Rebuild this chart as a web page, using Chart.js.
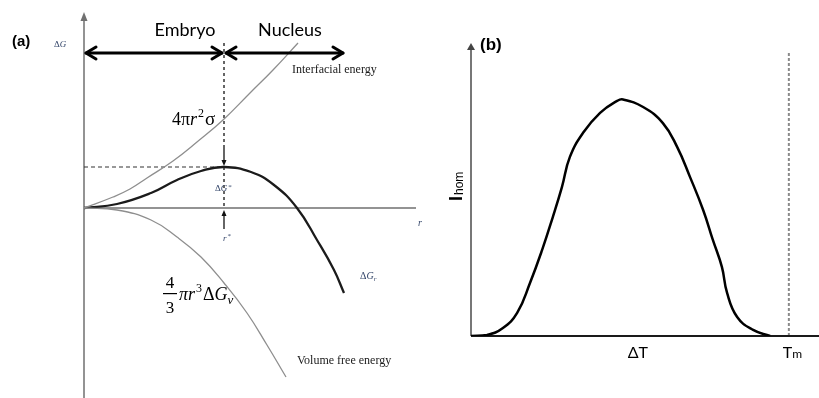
<!DOCTYPE html>
<html>
<head>
<meta charset="utf-8">
<script src="https://cdn.jsdelivr.net/npm/chart.js@4.4.1/dist/chart.umd.min.js"></script>
<style>
html, body { margin: 0; padding: 0; background: #fff; }
#wrap { position: relative; width: 819px; height: 398px; overflow: hidden; }
canvas { position: absolute; top: 0; }
#chartA { left: 0; }
#chartB { left: 440px; }
</style>
</head>
<body>
<div id="wrap">
  <canvas id="chartA" width="440" height="398"></canvas>
  <canvas id="chartB" width="379" height="398"></canvas>
</div>
<script>
// ---- panel (a): free energy vs embryo radius (arbitrary units) ----
const surfR  = [0, 2.9, 4.6, 6.3, 8.9, 11.3, 13.9, 16.6, 18.9, 21.4];
const surfG  = [0, 1.1, 1.9, 3.0, 4.7, 6.6, 8.8, 11.5, 13.8, 16.5];
const volR   = [0, 3.3, 6.7, 9.3, 11.7, 14.0, 16.3, 18.3, 20.2];
const volG   = [0, -0.2, -1.2, -2.9, -4.9, -7.5, -10.5, -13.7, -16.9];
const totalR = [0, 3.3, 6.7, 9.3, 11.7, 14.0, 16.7, 19.0, 21.3, 23.3, 25.0, 26.0];
const totalG = [0, 0.4, 1.5, 2.8, 3.7, 4.1, 3.6, 2.3, 0, -3.2, -6.2, -8.5];
const rStar = 14.0;      // critical radius
const dGStar = 4.1;      // barrier height
const rRange = [0, 33.6];
const gRange = [-19, 19.6];
const regionArrowG = 15.5;   // height of Embryo / Nucleus arrows
const nucleusEndR = 25.9;

// ---- panel (b): nucleation rate vs undercooling ----
const dT   = [0, 4.6, 9.2, 13.3, 17.0, 20.5, 23.6, 26.2, 28.5, 32.3, 37.2, 42.1, 43.8, 49.6, 55.3, 59.4, 63.1, 66.9, 69.7, 72.3, 73.8, 76.7, 81.3, 86.2];
const iHom = [0, 0.4, 3.3, 9.5, 21.8, 35.4, 49.0, 61.2, 73.6, 83.5, 91.7, 96.6, 97.2, 94.1, 87.5, 77.7, 65.4, 51.8, 39.5, 28.4, 17.7, 7.8, 2.5, 0];
const tmPos = 91.6;
const dTLabelPos = 48.1;
const dTRange = [0, 100];
const iRange = [0, 120];

const toPts = (xs, ys) => xs.map((x, i) => ({ x: x, y: ys[i] }));

function head(ctx, x, y, ang, len, half) {
  ctx.beginPath();
  ctx.moveTo(x, y);
  ctx.lineTo(x - len * Math.cos(ang) + half * Math.sin(ang), y - len * Math.sin(ang) - half * Math.cos(ang));
  ctx.lineTo(x - len * Math.cos(ang) - half * Math.sin(ang), y - len * Math.sin(ang) + half * Math.cos(ang));
  ctx.closePath();
  ctx.fill();
}

function chevron(ctx, x, y, dir, len, half) {
  ctx.beginPath();
  ctx.moveTo(x - dir * len, y - half);
  ctx.lineTo(x, y);
  ctx.lineTo(x - dir * len, y + half);
  ctx.stroke();
}

// draw a run of [text, font, dy, gap] pieces from x
function runText(ctx, x, y, parts) {
  parts.forEach(p => {
    ctx.font = p[1];
    ctx.fillText(p[0], x, y + (p[2] || 0));
    x += ctx.measureText(p[0]).width + (p[3] || 0);
  });
  return x;
}

const panelA = {
  id: 'panelA',
  beforeDatasetsDraw(chart) {
    const { ctx, chartArea: a, scales: { x, y } } = chart;
    const x0 = x.getPixelForValue(0), y0 = y.getPixelForValue(0);
    const xs = x.getPixelForValue(rStar), ys = y.getPixelForValue(dGStar);
    ctx.save();
    // axes
    ctx.strokeStyle = '#707070';
    ctx.fillStyle = '#707070';
    ctx.lineWidth = 1.5;
    ctx.beginPath();
    ctx.moveTo(x0, a.bottom); ctx.lineTo(x0, a.top + 6);
    ctx.moveTo(x0, y0); ctx.lineTo(a.right - 4, y0);
    ctx.stroke();
    head(ctx, x0, a.top, -Math.PI / 2, 9, 3.5);
    // dashed guides
    ctx.strokeStyle = '#333';
    ctx.lineWidth = 1.2;
    ctx.setLineDash([4, 3]);
    ctx.beginPath();
    ctx.moveTo(x0, ys); ctx.lineTo(xs, ys);
    ctx.stroke();
    ctx.lineWidth = 1.5;
    ctx.setLineDash([3, 3]);
    ctx.beginPath();
    ctx.moveTo(xs, y.getPixelForValue(16.5)); ctx.lineTo(xs, y.getPixelForValue(6.1));
    ctx.moveTo(xs, ys); ctx.lineTo(xs, y0);
    ctx.stroke();
    ctx.restore();
  },
  afterDatasetsDraw(chart) {
    const { ctx, scales: { x, y } } = chart;
    const x0 = x.getPixelForValue(0), y0 = y.getPixelForValue(0);
    const xs = x.getPixelForValue(rStar), ys = y.getPixelForValue(dGStar);
    const ya = y.getPixelForValue(regionArrowG);
    const xe = x.getPixelForValue(nucleusEndR);
    ctx.save();
    // Embryo / Nucleus double arrows
    ctx.strokeStyle = '#000';
    ctx.lineWidth = 3;
    ctx.lineCap = 'round';
    ctx.lineJoin = 'round';
    ctx.beginPath();
    ctx.moveTo(x0 + 2, ya); ctx.lineTo(xs - 2, ya);
    ctx.moveTo(xs + 2, ya); ctx.lineTo(xe, ya);
    ctx.stroke();
    chevron(ctx, x0 + 2, ya, -1, 10, 6);
    chevron(ctx, xs - 2, ya, 1, 10, 6);
    chevron(ctx, xs + 2, ya, -1, 10, 6);
    chevron(ctx, xe, ya, 1, 10, 6);
    // small arrows to the barrier and critical radius
    ctx.lineWidth = 1.2;
    ctx.lineCap = 'butt';
    ctx.fillStyle = '#111';
    ctx.beginPath();
    ctx.moveTo(xs, y.getPixelForValue(6.1)); ctx.lineTo(xs, ys - 5);
    ctx.moveTo(xs, y.getPixelForValue(-2.1)); ctx.lineTo(xs, y0 + 6);
    ctx.stroke();
    head(ctx, xs, ys - 1, Math.PI / 2, 6, 2.5);
    head(ctx, xs, y0 + 2, -Math.PI / 2, 6, 2.5);

    // text
    ctx.textBaseline = 'middle';
    ctx.fillStyle = '#000';
    ctx.font = 'bold 15px "Liberation Sans", Arial, sans-serif';
    ctx.fillText('(a)', 12, 42);
    ctx.textAlign = 'center';
    ctx.font = '18px Lato, "Liberation Sans", sans-serif';
    ctx.fillText('Embryo', 185, 30);
    ctx.fillText('Nucleus', 290, 30);
    ctx.textAlign = 'left';
    ctx.fillStyle = '#1a1a1a';
    ctx.font = '12px "Liberation Serif", "DejaVu Serif", serif';
    ctx.fillText('Interfacial energy', 292, 70);
    ctx.fillText('Volume free energy', 297, 361);

    const blue = '#34466a';
    ctx.fillStyle = blue;
    ctx.textBaseline = 'alphabetic';
    runText(ctx, 54, 47, [['\u0394', '9px "Liberation Serif", serif'], ['G', 'italic 9px "Liberation Serif", serif']]);
    runText(ctx, xs - 9, 191, [['\u0394', '9px "Liberation Serif", serif'], ['G', 'italic 9px "Liberation Serif", serif', 0, 1], ['*', '7px "Liberation Serif", serif', -2]]);
    runText(ctx, xs - 1, 241, [['r', 'italic 9px "Liberation Serif", serif', 0, 1], ['*', '7px "Liberation Serif", serif', -3]]);
    runText(ctx, 360, 279, [['\u0394', '10px "Liberation Serif", serif'], ['G', 'italic 10px "Liberation Serif", serif'], ['r', 'italic 7px "Liberation Serif", serif', 2]]);

    // formulas
    ctx.fillStyle = '#000';
    runText(ctx, 172, 125, [['4\u03c0', '18px "Liberation Serif", serif'], ['r', 'italic 18px "Liberation Serif", serif', 0, 1], ['2', '12px "Liberation Serif", serif', -8, 1], ['\u03c3', '19px "Liberation Serif", serif']]);
    ctx.textAlign = 'center';
    ctx.font = '17px "Liberation Serif", serif';
    ctx.fillText('4', 170, 288);
    ctx.fillText('3', 170, 313);
    ctx.fillRect(163, 293, 14, 1.2);
    ctx.textAlign = 'left';
    runText(ctx, 179, 300, [['\u03c0', 'italic 18px "Liberation Serif", serif'], ['r', 'italic 18px "Liberation Serif", serif', 0, 1], ['3', '12px "Liberation Serif", serif', -8, 1], ['\u0394', '18px "Liberation Serif", serif'], ['G', 'italic 18px "Liberation Serif", serif'], ['v', 'italic 13px "Liberation Serif", serif', 4]]);
    ctx.font = 'italic 10px "Liberation Serif", serif';
    ctx.fillStyle = blue;
    ctx.fillText('r', 418, 226);
    ctx.restore();
  }
};

const panelB = {
  id: 'panelB',
  beforeDatasetsDraw(chart) {
    const { ctx, chartArea: a, scales: { x, y } } = chart;
    const xt = x.getPixelForValue(tmPos);
    ctx.save();
    // Tm marker
    ctx.strokeStyle = '#8a8a8a';
    ctx.lineWidth = 2;
    ctx.setLineDash([3, 2]);
    ctx.beginPath();
    ctx.moveTo(xt, y.getPixelForValue(116.3)); ctx.lineTo(xt, a.bottom);
    ctx.stroke();
    ctx.setLineDash([]);
    // axes
    ctx.strokeStyle = '#555';
    ctx.fillStyle = '#444';
    ctx.lineWidth = 1.6;
    ctx.beginPath();
    ctx.moveTo(a.left, a.bottom); ctx.lineTo(a.left, a.top + 5);
    ctx.stroke();
    head(ctx, a.left, a.top - 1, -Math.PI / 2, 7, 4);
    ctx.strokeStyle = '#1a1a1a';
    ctx.lineWidth = 2;
    ctx.beginPath();
    ctx.moveTo(a.left, a.bottom); ctx.lineTo(chart.width, a.bottom);
    ctx.stroke();
    ctx.restore();
  },
  afterDatasetsDraw(chart) {
    const { ctx, chartArea: a, scales: { x } } = chart;
    ctx.save();
    ctx.fillStyle = '#000';
    ctx.textBaseline = 'middle';
    ctx.font = 'bold 17px "Liberation Sans", Arial, sans-serif';
    ctx.fillText('(b)', 40, 45);
    ctx.textBaseline = 'alphabetic';
    ctx.font = '16px Lato, "Liberation Sans", sans-serif';
    ctx.textAlign = 'center';
    ctx.fillText('\u0394T', x.getPixelForValue(dTLabelPos), a.bottom + 22);
    ctx.textAlign = 'left';
    const xt = x.getPixelForValue(tmPos);
    runText(ctx, xt - 6, a.bottom + 22, [['T', '16px Lato, "Liberation Sans", sans-serif'], ['m', '12px Lato, "Liberation Sans", sans-serif']]);
    // rotated y label
    ctx.translate(22, 201);
    ctx.rotate(-Math.PI / 2);
    runText(ctx, 0, 0, [['I', 'bold 18px "Liberation Sans", Arial, sans-serif', 0, 1], ['hom', '12px "Liberation Sans", Arial, sans-serif', 1]]);
    ctx.restore();
  }
};

new Chart(document.getElementById('chartA'), {
  type: 'line',
  data: {
    datasets: [
      { data: toPts(surfR, surfG), borderColor: '#8e8e8e', borderWidth: 1.3 },
      { data: toPts(volR, volG), borderColor: '#8e8e8e', borderWidth: 1.3 },
      { data: toPts(totalR, totalG), borderColor: '#1b1b1b', borderWidth: 2.3 }
    ]
  },
  options: {
    responsive: false,
    animation: false,
    layout: { padding: { left: 84, right: 20, top: 12, bottom: 0 } },
    elements: { point: { radius: 0 }, line: { tension: 0.45, fill: false } },
    plugins: { legend: { display: false }, tooltip: { enabled: false } },
    scales: {
      x: { type: 'linear', min: rRange[0], max: rRange[1], display: false },
      y: { type: 'linear', min: gRange[0], max: gRange[1], display: false }
    }
  },
  plugins: [panelA]
});

new Chart(document.getElementById('chartB'), {
  type: 'line',
  data: {
    datasets: [
      { data: toPts(dT, iHom), borderColor: '#000', borderWidth: 2.5 }
    ]
  },
  options: {
    responsive: false,
    animation: false,
    layout: { padding: { left: 31, right: 1, top: 44, bottom: 62 } },
    elements: { point: { radius: 0 }, line: { tension: 0.45, fill: false } },
    plugins: { legend: { display: false }, tooltip: { enabled: false } },
    scales: {
      x: { type: 'linear', min: dTRange[0], max: dTRange[1], display: false },
      y: { type: 'linear', min: iRange[0], max: iRange[1], display: false }
    }
  },
  plugins: [panelB]
});
</script>
</body>
</html>
